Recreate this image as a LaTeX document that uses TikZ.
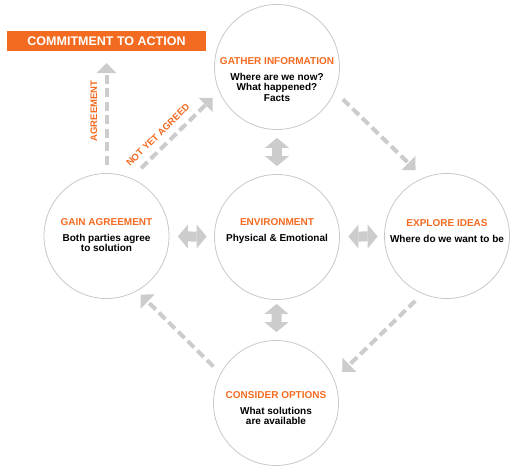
\documentclass[tikz,border=0pt]{standalone}
\usepackage{fontspec}
\setmainfont{Liberation Sans}
\usepackage{xcolor}
\definecolor{orngc}{HTML}{F36B21}
\definecolor{greyc}{HTML}{CCCCCC}
\definecolor{ringc}{HTML}{C8C8C8}
\usepackage{tikz}
\usetikzlibrary{arrows.meta,positioning,calc}
\tikzset{
  stage/.style={circle,draw=ringc,line width=0.8pt,fill=white,minimum size=125pt,inner sep=0pt},
  ttl/.style={font=\bfseries\fontsize{10}{10.5}\selectfont,text=orngc,inner sep=0pt},
  txt/.style={font=\bfseries\fontsize{10}{10.5}\selectfont,align=center,inner sep=0pt},
  lbl/.style={font=\bfseries\fontsize{9.5}{10}\selectfont,text=orngc,inner sep=0pt,sloped},
  banner/.style={fill=orngc,text=white,minimum width=199pt,minimum height=20pt,inner sep=0pt,font=\bfseries\fontsize{12.5}{14}\selectfont},
  flow/.style={draw=greyc,line width=4pt,dash pattern=on 9pt off 4.5pt,-{Triangle[width=20pt,length=10pt,line width=0pt]}},
  dbl/.style={draw=greyc,line width=10pt,{Triangle[width=24pt,length=10pt,line width=0pt]}-{Triangle[width=24pt,length=10pt,line width=0pt]}},
}
\newcommand{\stage}[5]{\node[stage] (#1) at (#2) {};
  \node[ttl] (#1T) at ($(#1)+(0,#3)$) {#4};
  \node[txt,below=8pt of #1T] (#1D) {#5};}

\begin{document}
\begin{tikzpicture}[x=1pt,y=1pt]
  \fill[white] (0,0) rectangle (521,472);
  \useasboundingbox (0,0) rectangle (521,472);
  \stage{gather}{277,405}{6}{GATHER INFORMATION}{Where are we now?\\What happened?\\Facts}
  \stage{envir}{277,235}{15}{ENVIRONMENT}{Physical \& Emotional}
  \stage{explore}{447,236}{13}{EXPLORE IDEAS}{Where do we want to be}
  \stage{gain}{106.5,236}{14}{GAIN AGREEMENT}{Both parties agree\\to solution}
  \stage{consider}{276,69}{8}{CONSIDER OPTIONS}{What solutions\\are available}
  \node[banner] (commit) at (106.5,431) {COMMITMENT TO ACTION};
  % cycle round the environment
  \draw[flow,shorten <=11pt,shorten >=11pt] (gather.-23.4) -- (explore.112);
  \draw[flow,shorten <=10pt,shorten >=11pt] (explore.-113.5) -- (consider.22);
  \draw[flow,shorten <=10pt,shorten >=5pt] (consider.152.6) -- (gain.-61.4);
  \draw[flow,shorten <=14pt,shorten >=9pt] (gain.67.7) -- node[lbl,above=6.6pt,pos=0.4] {NOT YET AGREED} (gather.203.4);
  \draw[flow,shorten <=8.5pt,shorten >=12pt] (gain.north) -- node[lbl,above=7.3pt,pos=0.51] {AGREEMENT} (commit.south);
  % links to the environment
  \draw[dbl,shorten <=8pt,shorten >=8pt] (gather) -- (envir);
  \draw[dbl,shorten <=4pt,shorten >=8pt] (envir) -- (consider);
  \draw[dbl,shorten <=8.5pt,shorten >=7.5pt] (gain) -- (envir);
  \draw[dbl,shorten <=8.5pt,shorten >=6.5pt] (envir) -- (explore);
\end{tikzpicture}
\end{document}
